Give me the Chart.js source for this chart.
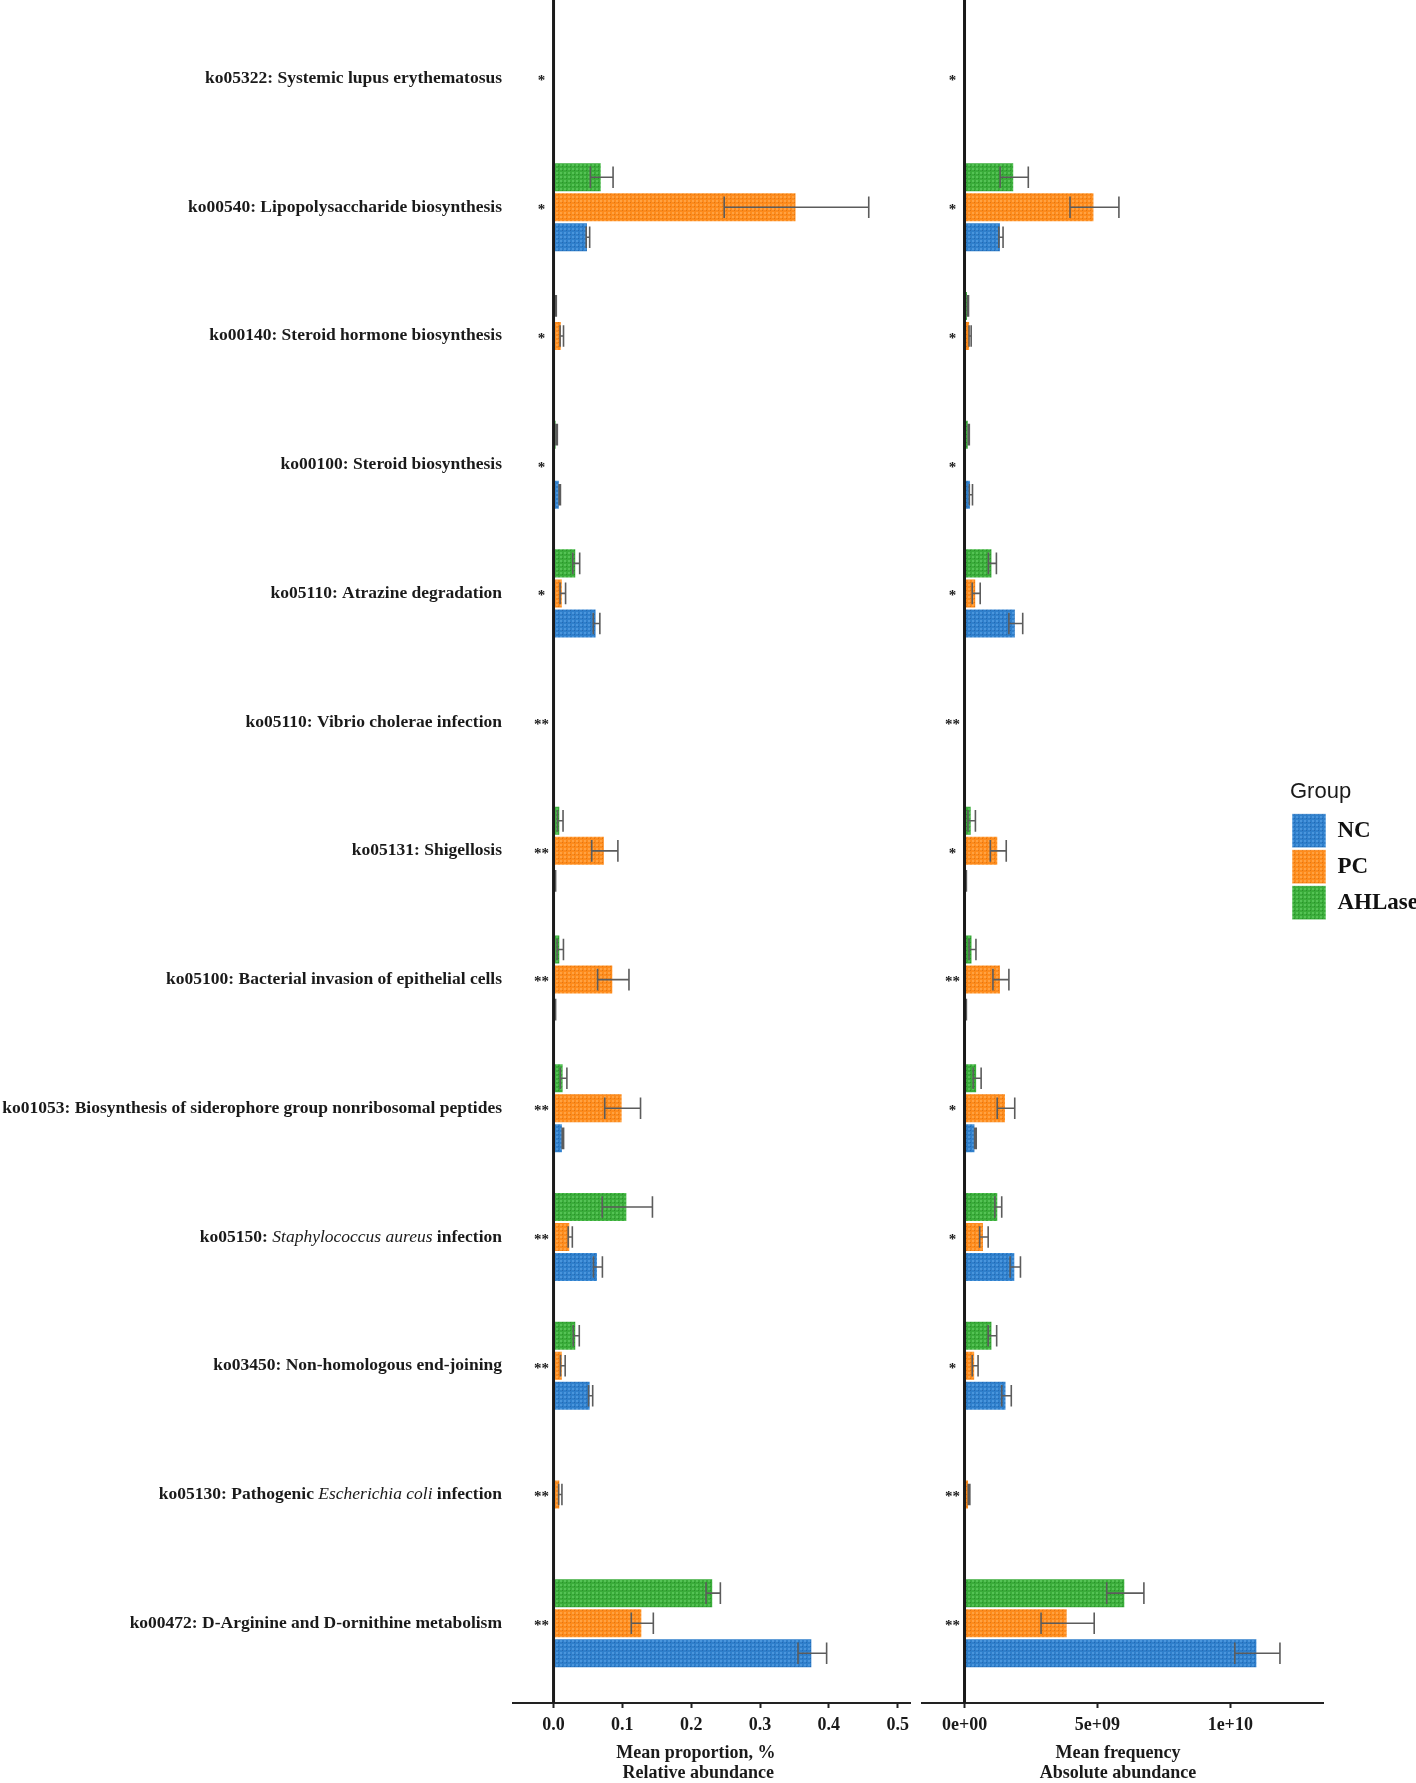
<!DOCTYPE html>
<html>
<head>
<meta charset="utf-8">
<script src="https://cdn.jsdelivr.net/npm/chart.js@4.4.1/dist/chart.umd.min.js"></script>
<style>
  html, body { margin: 0; padding: 0; background: #fff; }
  #wrap { position: relative; width: 1416px; height: 1783px; overflow: hidden; }
  #relChart { position: absolute; left: 0; top: 0; }
  #absChart { position: absolute; left: 916px; top: 0; }
</style>
</head>
<body>
<div id="wrap">
  <canvas id="relChart" width="916" height="1783"></canvas>
  <canvas id="absChart" width="500" height="1783"></canvas>
</div>
<script>
// pathways, top to bottom
const categories = [
  'ko05322: Systemic lupus erythematosus',
  'ko00540: Lipopolysaccharide biosynthesis',
  'ko00140: Steroid hormone biosynthesis',
  'ko00100: Steroid biosynthesis',
  'ko05110: Atrazine degradation',
  'ko05110: Vibrio cholerae infection',
  'ko05131: Shigellosis',
  'ko05100: Bacterial invasion of epithelial cells',
  'ko01053: Biosynthesis of siderophore group nonribosomal peptides',
  'ko05150: Staphylococcus aureus infection',
  'ko03450: Non-homologous end-joining',
  'ko05130: Pathogenic Escherichia coli infection',
  'ko00472: D-Arginine and D-ornithine metabolism'
];
const italicParts = [null, null, null, null, null, null, null, null, null,
  'Staphylococcus aureus', null, 'Escherichia coli', null];

const relStars = ['*', '*', '*', '*', '*', '**', '**', '**', '**', '**', '**', '**', '**'];
const absStars = ['*', '*', '*', '*', '*', '**', '*', '**', '*', '*', '*', '**', '**'];

const groups = ['NC', 'PC', 'AHLase'];

// relative abundance (mean proportion, %) and sd
const relNC    = [0, 0.050, 0.0005, 0.009, 0.0625, 0, 0.0025, 0.0025, 0.0136, 0.0645, 0.0539, 0, 0.376];
const relNCsd  = [0, 0.0025, 0, 0.001, 0.0048, 0, 0.0005, 0.0005, 0.001, 0.0065, 0.003, 0, 0.0208];
const relPC    = [0, 0.353, 0.012, 0.0005, 0.0135, 0, 0.0745, 0.0868, 0.1004, 0.0243, 0.0135, 0.0098, 0.129];
const relPCsd  = [0, 0.105, 0.0025, 0, 0.004, 0, 0.019, 0.0228, 0.026, 0.003, 0.0034, 0.0024, 0.016];
const relAHL   = [0, 0.070, 0.003, 0.0045, 0.033, 0, 0.0098, 0.0098, 0.0146, 0.1072, 0.033, 0, 0.232];
const relAHLsd = [0, 0.0165, 0.001, 0.001, 0.005, 0, 0.004, 0.0046, 0.0048, 0.0365, 0.0044, 0, 0.0104];

// absolute abundance (mean frequency) and sd
const absNC    = [0, 1.37e9, 0.01e9, 0.24e9, 1.93e9, 0, 0.05e9, 0.05e9, 0.41e9, 1.91e9, 1.58e9, 0, 11.02e9];
const absNCsd  = [0, 0.08e9, 0, 0.06e9, 0.26e9, 0, 0.02e9, 0.02e9, 0.03e9, 0.195e9, 0.18e9, 0, 0.85e9];
const absPC    = [0, 4.89e9, 0.21e9, 0.01e9, 0.44e9, 0, 1.27e9, 1.37e9, 1.56e9, 0.73e9, 0.40e9, 0.17e9, 3.88e9];
const absPCsd  = [0, 0.92e9, 0.04e9, 0, 0.15e9, 0, 0.30e9, 0.30e9, 0.33e9, 0.16e9, 0.11e9, 0.03e9, 1.0e9];
const absAHL   = [0, 1.87e9, 0.13e9, 0.16e9, 1.05e9, 0, 0.27e9, 0.30e9, 0.475e9, 1.27e9, 1.05e9, 0, 6.05e9];
const absAHLsd = [0, 0.53e9, 0.02e9, 0.02e9, 0.15e9, 0, 0.14e9, 0.13e9, 0.15e9, 0.13e9, 0.16e9, 0, 0.7e9];

const relTicks = [0, 0.1, 0.2, 0.3, 0.4, 0.5];
const absTicks = [0, 5e9, 1e10];
const absTickLabels = ['0e+00', '5e+09', '1e+10'];

const serif = '"Liberation Serif", "Times New Roman", serif';
Chart.defaults.font.family = serif;

// dotted texture like the original fills
function texture(ctx, base, light, dark) {
    let c = document.createElement('canvas');
    c.width = 4; c.height = 4;
    let g = c.getContext('2d');
    g.fillStyle = base; g.fillRect(0, 0, 4, 4);
    g.fillStyle = light; g.fillRect(0, 0, 2, 2);
    g.fillStyle = dark; g.fillRect(2, 2, 1, 1);
    return ctx.createPattern(c, 'repeat');
}

function makeDatasets(ctx, nc, ncSd, pc, pcSd, ahl, ahlSd) {
    const common = {borderColor: 'rgba(255,255,255,0.55)', borderWidth: 1, borderSkipped: false};
    // first dataset sits on top of each group
    return [
        {label: groups[2], data: ahl, errors: ahlSd, backgroundColor: texture(ctx, '#3aac3a', '#55c255', '#2a902a'), ...common},
        {label: groups[1], data: pc, errors: pcSd, backgroundColor: texture(ctx, '#fd8b1c', '#ffa242', '#e07512'), ...common},
        {label: groups[0], data: nc, errors: ncSd, backgroundColor: texture(ctx, '#2f7fcb', '#4a95dc', '#2468b2'), ...common}
    ];
}

const errorBars = {
    id: 'errorBars',
    afterDatasetsDraw(chart) {
        const {ctx, scales: {x}} = chart;
        ctx.save();
        ctx.strokeStyle = '#5c5c5c';
        ctx.lineWidth = 1.6;
        chart.data.datasets.forEach((ds, di) => {
            chart.getDatasetMeta(di).data.forEach((bar, j) => {
                let sd = ds.errors[j];
                if (!sd) return;
                let a = x.getPixelForValue(ds.data[j] - sd);
                let b = x.getPixelForValue(ds.data[j] + sd);
                let h = bar.height * 0.36;
                ctx.beginPath();
                ctx.moveTo(a, bar.y); ctx.lineTo(b, bar.y);
                ctx.moveTo(a, bar.y - h); ctx.lineTo(a, bar.y + h);
                ctx.moveTo(b, bar.y - h); ctx.lineTo(b, bar.y + h);
                ctx.stroke();
            });
        });
        ctx.restore();
    }
};

// zero line, significance stars and the pathway names
const rowDecor = {
    id: 'rowDecor',
    afterDatasetsDraw(chart, args, opts) {
        const {ctx, chartArea, scales: {x, y}} = chart;
        let x0 = x.getPixelForValue(0);
        ctx.save();
        ctx.strokeStyle = '#1a1a1a';
        ctx.lineWidth = 3;
        ctx.beginPath();
        ctx.moveTo(x0, chartArea.top);
        ctx.lineTo(x0, chartArea.bottom);
        ctx.stroke();

        ctx.fillStyle = '#1a1a1a';
        ctx.textBaseline = 'middle';
        categories.forEach((name, i) => {
            let py = y.getPixelForValue(i);
            ctx.font = 'bold 15px ' + serif;
            ctx.textAlign = 'center';
            ctx.fillText(opts.stars[i], x0 - 12, py + 3);
            if (!opts.labels) return;

            let segs = [[name, false]];
            let it = italicParts[i];
            if (it) {
                let k = name.indexOf(it);
                segs = [[name.slice(0, k), false], [it, true], [name.slice(k + it.length), false]];
            }
            const fontOf = (ital) => (ital ? 'italic ' : 'bold ') + '17.5px ' + serif;
            let w = 0;
            segs.forEach(s => { ctx.font = fontOf(s[1]); w += ctx.measureText(s[0]).width; });
            let px = opts.labelRight - w;
            ctx.textAlign = 'left';
            segs.forEach(s => {
                ctx.font = fontOf(s[1]);
                ctx.fillText(s[0], px, py);
                px += ctx.measureText(s[0]).width;
            });
        });
        ctx.restore();
    }
};

// put the legend where the original has it, overlapping the panel's right margin
const legendSpot = {
    id: 'legendSpot',
    afterLayout(chart, args, opts) {
        let lg = chart.legend;
        if (!lg) return;
        lg.left = opts.left;
        lg.right = chart.width;
        lg.width = chart.width - opts.left;
    }
};

function xAxis(min, max, ticks, fmt, title) {
    return {
        type: 'linear',
        min: min,
        max: max,
        afterFit: (s) => { s.height = 80; },
        afterBuildTicks: (s) => { s.ticks = ticks.map(v => ({value: v})); },
        ticks: {
            autoSkip: false,
            maxRotation: 0,
            padding: 7,
            color: '#1a1a1a',
            font: {size: 18, weight: 'bold', family: serif},
            callback: fmt
        },
        grid: {drawOnChartArea: false, drawTicks: true, tickLength: 5, tickColor: '#222', tickWidth: 2},
        border: {display: true, color: '#222', width: 2},
        title: {
            display: true,
            text: title,
            color: '#1a1a1a',
            padding: {top: 0, bottom: 0},
            font: {size: 18, weight: 'bold', family: serif, lineHeight: 20 / 18}
        }
    };
}

// one tick per pathway so the bar ruler uses the row spacing
const yAxis = {
    type: 'linear', reverse: true, offset: false, min: -0.61, max: 12.62, display: false,
    afterBuildTicks: (s) => { s.ticks = categories.map((c, i) => ({value: i})); }
};

const relCtx = document.getElementById('relChart').getContext('2d');
new Chart(relCtx, {
    type: 'bar',
    data: {
        labels: categories.map((c, i) => i),
        datasets: makeDatasets(relCtx, relNC, relNCsd, relPC, relPCsd, relAHL, relAHLsd)
    },
    options: {
        indexAxis: 'y',
        responsive: false,
        animation: false,
        devicePixelRatio: 1,
        layout: {padding: {left: 513, right: 3, top: 0, bottom: 0}},
        datasets: {bar: {categoryPercentage: 0.7, barPercentage: 1}},
        scales: {
            y: yAxis,
            x: xAxis(-0.0589, 0.5185, relTicks, (v) => v.toFixed(1),
                ['Mean proportion, %       ', ' Relative abundance       '])
        },
        plugins: {
            legend: {display: false},
            tooltip: {enabled: false},
            rowDecor: {stars: relStars, labels: true, labelRight: 502}
        }
    },
    plugins: [errorBars, rowDecor]
});

const absCtx = document.getElementById('absChart').getContext('2d');
new Chart(absCtx, {
    type: 'bar',
    data: {
        labels: categories.map((c, i) => i),
        datasets: makeDatasets(absCtx, absNC, absNCsd, absPC, absPCsd, absAHL, absAHLsd)
    },
    options: {
        indexAxis: 'y',
        responsive: false,
        animation: false,
        devicePixelRatio: 1,
        layout: {padding: {left: 6, right: 0, top: 0, bottom: 0}},
        datasets: {bar: {categoryPercentage: 0.7, barPercentage: 1}},
        scales: {
            y: yAxis,
            x: xAxis(-1.6e9, 1.349e10, absTicks, (v) => absTickLabels[absTicks.indexOf(v)],
                ['Mean frequency  ', 'Absolute abundance  '])
        },
        plugins: {
            legend: {
                display: true,
                position: 'right',
                fullSize: false,
                reverse: true,
                maxWidth: 93,
                align: 'center',
                title: {
                    display: true,
                    text: 'Group',
                    position: 'start',
                    color: '#1a1a1a',
                    font: {family: '"Liberation Sans", Arial, sans-serif', size: 22},
                    padding: {top: 0, bottom: 4}
                },
                labels: {
                    boxWidth: 34,
                    boxHeight: 34,
                    padding: 2,
                    color: '#111',
                    font: {family: serif, size: 23, weight: 'bold'}
                }
            },
            tooltip: {enabled: false},
            legendSpot: {left: 374},
            rowDecor: {stars: absStars, labels: false}
        }
    },
    plugins: [errorBars, rowDecor, legendSpot]
});
</script>
</body>
</html>
